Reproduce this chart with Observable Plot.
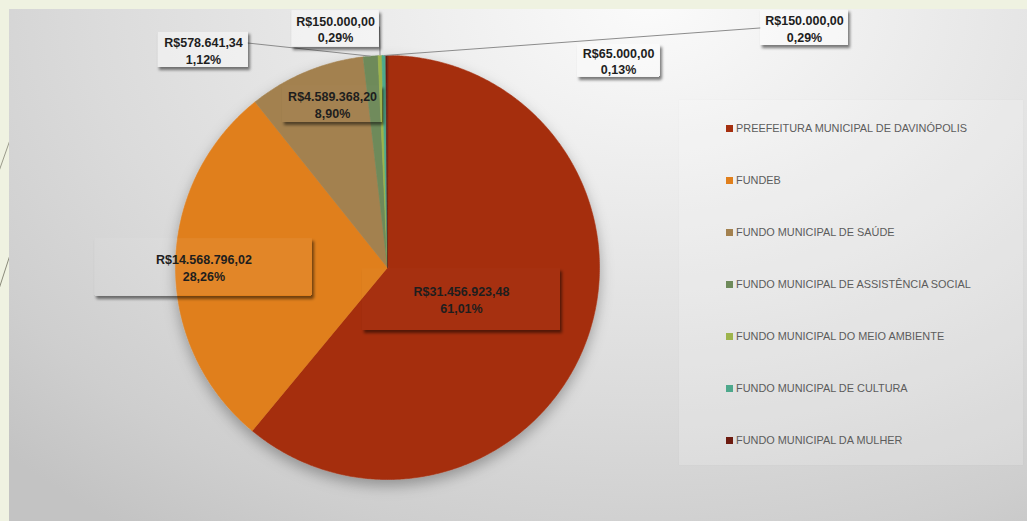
<!DOCTYPE html>
<html>
<head>
<meta charset="utf-8">
<script src="https://cdn.jsdelivr.net/npm/d3@7"></script>
<script src="https://cdn.jsdelivr.net/npm/@observablehq/plot@0.6"></script>
<style>
html, body { margin: 0; padding: 0; background: #eff2e1; }
#wrap { position: relative; width: 1027px; height: 521px; overflow: hidden; background: #eff2e1; }
#deco { position: absolute; left: 0; top: 0; }
#panel { position: absolute; left: 9px; top: 9px; right: 0; bottom: 0;
  background: radial-gradient(ellipse 900px 650px at 641px -9px, #fbfbfb 0%, #eaeaea 33%, #dbdbdb 62%, #cecece 85%, #c3c3c3 100%); }
#legend { position: absolute; left: 679px; top: 100px; width: 344px; height: 365px;
  background: rgba(255,255,255,0.18); box-shadow: 0 0 1px rgba(0,0,0,0.05); }
.item { position: absolute; left: 47px; height: 14px; font: 10.9px "Liberation Sans", Arial, sans-serif; color: #5c5c5c; white-space: nowrap; line-height: 14px; }
.item .sw { display: inline-block; width: 7px; height: 7px; margin-right: 3px; vertical-align: 0px; }
#chart { position: absolute; left: 0; top: 0; }
</style>
</head>
<body>
<div id="wrap">
  <svg id="deco" width="9" height="521"><line x1="10" y1="140" x2="-2" y2="174" stroke="#9a9a8a" stroke-width="1"/><line x1="10" y1="255" x2="-2" y2="292" stroke="#8a8a7a" stroke-width="1"/></svg>
  <div id="panel"></div>
  <div id="legend"></div>
  <div id="chart"></div>
</div>
<script>
// ---- data ----
const categories = [
  "PREEFEITURA MUNICIPAL DE DAVINÓPOLIS",
  "FUNDEB",
  "FUNDO MUNICIPAL DE SAÚDE",
  "FUNDO MUNICIPAL DE ASSISTÊNCIA SOCIAL",
  "FUNDO MUNICIPAL DO MEIO AMBIENTE",
  "FUNDO MUNICIPAL DE CULTURA",
  "FUNDO MUNICIPAL DA MULHER"
];
const values = [31456923.48, 14568796.02, 4589368.20, 578641.34, 150000.00, 150000.00, 65000.00];
const colors = ["#a52f0f", "#e07f1c", "#a3814f", "#6e8a5a", "#9db44c", "#4ea88c", "#6d1b10"];

// ---- layout (pie-radius units relative to pie centre, pixel box sizes) ----
const W = 1027, H = 521, R = 212, CX = 387, CY = 267;
const labelPos = [[0.349, -0.151], [-0.866, 0.002], [-0.259, 0.771], [-0.868, 1.026], [-0.245, 1.127], [1.967, 1.130], [1.090, 0.976]];
const boxSize = [[198, 62], [217, 57], [100, 37], [90, 35], [87, 36], [88, 35], [82, 32]];
const boxOpacity = [0.01, 0.05, 0.01, 0.45, 0.45, 0.45, 0.35];
const leaderFrom = [null, null, null, [44, -7], [44, -2], [-44, 0], null]; // px offsets from label centre

const loc = d3.formatLocale({decimal: ",", thousands: ".", grouping: [3], currency: ["R$", ""]});
const fmtMoney = loc.format("$,.2f");
const fmtPct = loc.format(".2%");
const total = d3.sum(values);

const arcs = d3.pie().sort(null).value(d => d)(values);

// slice polygons
const slicePts = [];
arcs.forEach((a, i) => {
  const cat = categories[i];
  slicePts.push({cat, x: 0, y: 0});
  const n = Math.max(2, Math.ceil((a.endAngle - a.startAngle) * 180 / Math.PI * 2));
  for (let k = 0; k <= n; k++) {
    const t = a.startAngle + (a.endAngle - a.startAngle) * k / n;
    slicePts.push({cat, x: Math.sin(t), y: Math.cos(t)});
  }
});

const labels = arcs.map((a, i) => {
  const [lx, ly] = labelPos[i];
  const [bw, bh] = boxSize[i];
  return {
    cat: categories[i],
    x: lx, y: ly,
    x1: lx - bw / 2 / R, x2: lx + bw / 2 / R,
    y1: ly - bh / 2 / R, y2: ly + bh / 2 / R,
    op: boxOpacity[i],
    text: fmtMoney(values[i]) + "\n" + fmtPct(values[i] / total)
  };
});

const leaders = [];
arcs.forEach((a, i) => {
  if (!leaderFrom[i]) return;
  const mid = (a.startAngle + a.endAngle) / 2;
  const [lx, ly] = labelPos[i];
  leaders.push({
    x1: lx + leaderFrom[i][0] / R, y1: ly - leaderFrom[i][1] / R,
    x2: Math.sin(mid) * 1.0, y2: Math.cos(mid) * 1.0
  });
});

const plot = Plot.plot({
  width: W, height: H, margin: 0,
  x: {domain: [-CX / R, (W - CX) / R], axis: null},
  y: {domain: [-(H - CY) / R, CY / R], axis: null},
  color: {domain: categories, range: colors},
  opacity: {type: "identity"},
  style: {background: "transparent", overflow: "visible"},
  marks: [
    Plot.line(slicePts, {x: "x", y: "y", z: "cat", fill: "cat", stroke: "cat", strokeWidth: 0.6, curve: "linear-closed"}),
    Plot.link(leaders, {x1: "x1", y1: "y1", x2: "x2", y2: "y2", stroke: "#8c8c8c", strokeWidth: 1}),
    Plot.rect(labels, {x1: "x1", x2: "x2", y1: "y1", y2: "y2", fill: "#ffffff", fillOpacity: "op"}),
    Plot.text(labels, {x: "x", y: "y", text: "text", fill: "#1e1e1e", fontWeight: "bold", fontSize: 12.5, fontFamily: "Liberation Sans, Arial, sans-serif", lineHeight: 1.35})
  ]
});

// filters
const ns = "http://www.w3.org/2000/svg";
const defs = document.createElementNS(ns, "defs");
defs.innerHTML = `
<filter id="boxsh" x="-20%" y="-30%" width="150%" height="180%">
 <feComponentTransfer in="SourceAlpha" result="full"><feFuncA type="linear" slope="1000" intercept="0"/></feComponentTransfer>
 <feGaussianBlur in="full" stdDeviation="1.6" result="b"/>
 <feOffset in="b" dx="2" dy="3" result="o"/>
 <feComposite in="o" in2="full" operator="out" result="s"/>
 <feFlood flood-color="#000" flood-opacity="0.5"/>
 <feComposite in2="s" operator="in" result="sh"/>
 <feMerge><feMergeNode in="sh"/><feMergeNode in="SourceGraphic"/></feMerge>
</filter>
<filter id="piesh" x="-20%" y="-20%" width="140%" height="150%">
 <feGaussianBlur in="SourceAlpha" stdDeviation="7" result="b"/>
 <feOffset in="b" dx="0" dy="6" result="o"/>
 <feFlood flood-color="#000" flood-opacity="0.3"/>
 <feComposite in2="o" operator="in" result="sh"/>
 <feMerge><feMergeNode in="sh"/><feMergeNode in="SourceGraphic"/></feMerge>
</filter>`;
plot.insertBefore(defs, plot.firstChild);
const lineG = plot.querySelector('g[aria-label="line"]');
if (lineG) lineG.setAttribute("filter", "url(#piesh)");
plot.querySelectorAll('g[aria-label="rect"] rect').forEach(r => r.setAttribute("filter", "url(#boxsh)"));
document.getElementById("chart").appendChild(plot);

// legend
const legend = d3.select("#legend");
categories.forEach((c, i) => {
  const it = legend.append("div").attr("class", "item").style("top", (21 + i * 52) + "px");
  it.append("span").attr("class", "sw").style("background", colors[i]);
  it.append("span").text(c);
});
</script>
</body>
</html>
